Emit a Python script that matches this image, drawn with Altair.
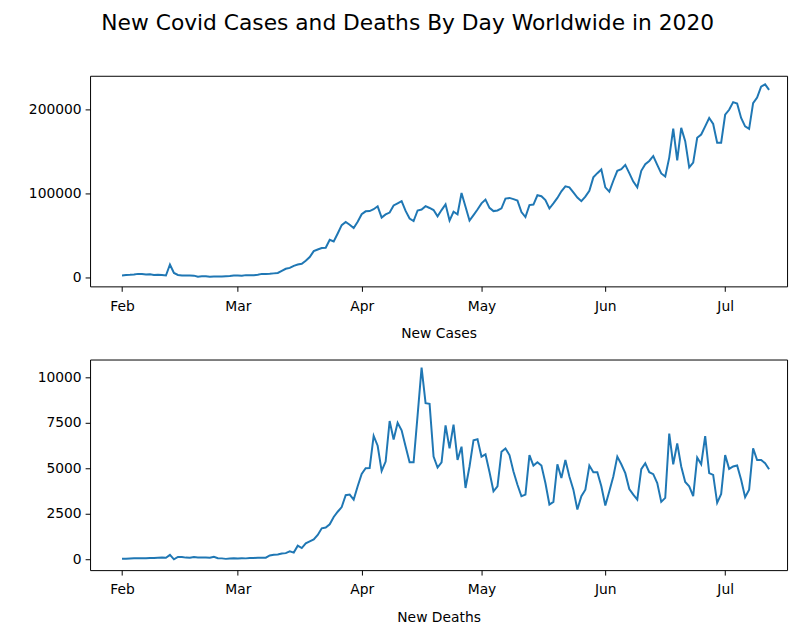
import altair as alt
import pandas as pd

# Daily series, Feb 1 2020 .. Jul 12 2020 (163 days)
dates = pd.date_range("2020-02-01", periods=163, freq="D").strftime("%Y-%m-%d").tolist()

new_cases = [
    # Feb
    2100, 2600, 2800, 3200, 3900, 3700, 3200, 3400, 2700, 3000,
    2500, 2000, 15100, 5000, 2600, 2100, 2000, 1900, 1800, 550,
    1000, 1000, 450, 650, 900, 850, 1100, 1300, 1900,
    # Mar
    1900, 1800, 2400, 2300, 2300, 2900, 3900, 3700, 4000, 4500,
    5000, 7500, 10000, 11000, 13500, 15000, 16000, 19500, 24000, 31000,
    33000, 34700, 35000, 44500, 42500, 52000, 62000, 65800, 62500, 58500,
    66000,
    # Apr
    75000, 78500, 78800, 81000, 84500, 71000, 74800, 77000, 85500, 88000,
    90600, 79000, 70000, 67000, 79500, 80700, 84700, 82500, 80000, 72500,
    80000, 86800, 67500, 78000, 75000, 100400, 84000, 67500, 74000, 80700,
    # May
    88000, 92500, 82700, 78800, 79500, 82000, 93700, 94500, 93000, 91300,
    77600, 71700, 85900, 86600, 97700, 96500, 92000, 81900, 88000, 94500,
    102400, 108300, 107100, 101000, 95000, 90600, 96000, 103000, 119000, 124000,
    128500,
    # Jun
    107100, 102000, 115000, 126800, 128800, 133900, 124000, 114000, 107100, 126800,
    134700, 138600, 144500, 134000, 123700, 120100, 142600, 177200, 139400, 178000,
    162200, 130800, 136700, 166200, 170100, 179900, 189800, 182700, 160300, 160300,
    # Jul
    193700, 199600, 208700, 207100, 189800, 179900, 176800, 207500, 214200, 227200,
    230000, 223300,
]

new_deaths = [
    # Feb
    46, 45, 57, 65, 66, 72, 73, 86, 89, 97,
    108, 97, 254, 13, 143, 142, 106, 98, 136, 115,
    118, 109, 97, 150, 71, 64, 37, 58, 68,
    # Mar
    57, 71, 64, 80, 82, 100, 101, 103, 225, 260,
    277, 332, 350, 450, 380, 760, 630, 884, 990, 1100,
    1350, 1714, 1752, 1931, 2333, 2620, 2875, 3526, 3559, 3288,
    4015,
    # Apr
    4698, 5007, 5020, 6781, 6239, 4861, 5371, 7595, 6580, 7503,
    7085, 6200, 5333, 5333, 7900, 10525, 8572, 8534, 5642, 5045,
    5333, 7357, 6093, 7394, 5458, 6185, 3922, 5100, 6543, 6597,
    # May
    5642, 5767, 4800, 3743, 4015, 5913, 6093, 5729, 4828, 4100,
    3472, 3559, 5729, 5154, 5333, 5154, 4194, 3016, 3163, 5224,
    4465, 5458, 4557, 3830, 2745, 3472, 3830, 5154, 4790, 4790,
    4015,
    # Jun
    2962, 3743, 4557, 5642, 5224, 4736, 3868, 3559, 3288, 4953,
    5279, 4790, 4682, 4194, 3163, 3380, 6906, 5224, 6364, 5100,
    4248, 4015, 3472, 5588, 5224, 6760, 4736, 4644, 3109, 3597,
    # Jul
    5729, 4969, 5100, 5154, 4373, 3418, 3830, 6093, 5458, 5458,
    5279, 4953,
]

case_ticks = [0, 100000, 200000]
death_ticks = [0, 2500, 5000, 7500, 10000]
month_starts = [2, 3, 4, 5, 6, 7]

df = pd.DataFrame({"date": dates, "cases": new_cases, "deaths": new_deaths})

FONT = "DejaVu Sans"
LINE = "#1f77b4"

x_scale = alt.Scale(
    type="utc",
    domain=[
        alt.DateTime(year=2020, month=1, date=24, utc=True),
        alt.DateTime(year=2020, month=7, date=16, hours=12, utc=True),
    ],
)
x_values = [alt.DateTime(year=2020, month=m, date=1, utc=True) for m in month_starts]


def panel(field, xtitle, ydomain, yticks):
    return (
        alt.Chart(df)
        .mark_line(color=LINE, strokeWidth=2)
        .encode(
            x=alt.X(
                "date:T",
                scale=x_scale,
                axis=alt.Axis(values=x_values,
                              labelExpr="utcFormat(datum.value, '%b')",
                              title=xtitle),
            ),
            y=alt.Y(
                f"{field}:Q",
                scale=alt.Scale(domain=ydomain, zero=False, nice=False),
                axis=alt.Axis(values=yticks, format="d", title=None),
            ),
        )
        .properties(width=705, height=213)
    )


top = panel("cases", "New Cases", [-10986, 240165], case_ticks)
bottom = panel("deaths", "New Deaths", [-580, 10965], death_ticks)

chart = (
    alt.vconcat(top, bottom, spacing=17)
    .properties(
        title=alt.TitleParams(
            "New Covid Cases and Deaths By Day Worldwide in 2020",
            fontSize=22, font=FONT, fontWeight="normal", color="black",
            anchor="middle", offset=41,
        ),
        padding={"left": 20, "top": 0, "right": 5, "bottom": 0},
    )
    .configure_view(stroke="black", strokeWidth=1)
    .configure_axis(
        domain=False, grid=False,
        tickColor="black", tickSize=5, tickWidth=1,
        labelFont=FONT, labelFontSize=14, labelColor="black",
        titleFont=FONT, titleFontSize=14, titleColor="black",
        titleFontWeight="normal", titlePadding=14,
    )
    .configure_axisX(labelPadding=8)
    .configure_axisY(labelPadding=4)
)

chart.save("out.html", embed_options={"renderer": "svg", "actions": False})
